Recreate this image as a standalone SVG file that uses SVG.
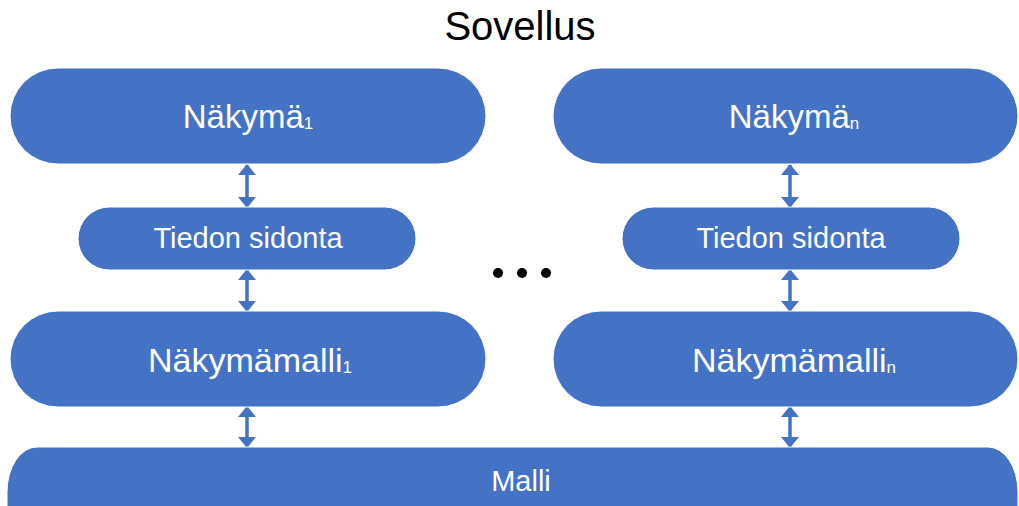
<svg xmlns="http://www.w3.org/2000/svg" width="1019" height="506" viewBox="0 0 1019 506">
  <defs>
    <style>
      .box { fill: #4472C4; stroke: #ffffff; stroke-width: 1; }
      .lbl { fill: #ffffff; font-family: "Liberation Sans", Arial, sans-serif; text-anchor: middle; }
      .big { font-size: 33px; }
      .vm { font-size: 34px; }
      .mid { font-size: 29px; }
      .sub { font-size: 17px; }
      .title { fill: #000000; font-family: "Liberation Sans", Arial, sans-serif; font-size: 40px; text-anchor: middle; }
      .link { stroke: #4472C4; stroke-width: 3.5; fill: none; marker-start: url(#head); marker-end: url(#head); }
    </style>
    <marker id="head" viewBox="0 0 11 18" refX="10" refY="9" markerWidth="11" markerHeight="18" markerUnits="userSpaceOnUse" orient="auto-start-reverse">
      <path d="M0,0 L11,9 L0,18 Z" fill="#4472C4"/>
    </marker>
  </defs>

  <rect width="1019" height="506" fill="#ffffff"/>

  <text class="title" x="520" y="40">Sovellus</text>

  <!-- double-headed links between layers -->
  <g id="connectors">
    <line class="link" x1="247" y1="165" x2="247" y2="207"/>
    <line class="link" x1="247" y1="270" x2="247" y2="311"/>
    <line class="link" x1="247" y1="407" x2="247" y2="447"/>
    <line class="link" x1="790" y1="165" x2="790" y2="207"/>
    <line class="link" x1="790" y1="270" x2="790" y2="311"/>
    <line class="link" x1="790" y1="407" x2="790" y2="447"/>
  </g>

  <g id="view1">
    <rect class="box" x="10" y="68" width="476" height="96" rx="48"/>
    <text class="lbl big" x="248" y="128">Näkymä<tspan class="sub" dy="1">1</tspan></text>
  </g>
  <g id="viewN">
    <rect class="box" x="553" y="68" width="465" height="96" rx="48"/>
    <text class="lbl big" x="794" y="128">Näkymä<tspan class="sub" dy="1">n</tspan></text>
  </g>

  <g id="binding1">
    <rect class="box" x="78" y="207" width="338" height="63" rx="31.5"/>
    <text class="lbl mid" x="248" y="248">Tiedon sidonta</text>
  </g>
  <g id="bindingN">
    <rect class="box" x="622" y="207" width="338" height="63" rx="31.5"/>
    <text class="lbl mid" x="791" y="248">Tiedon sidonta</text>
  </g>

  <g id="ellipsis" fill="#000000">
    <circle cx="498" cy="273" r="5"/>
    <circle cx="522" cy="273" r="5"/>
    <circle cx="546" cy="273" r="5"/>
  </g>

  <g id="viewmodel1">
    <rect class="box" x="10" y="311" width="476" height="96" rx="48"/>
    <text class="lbl vm" x="250" y="372">Näkymämalli<tspan class="sub" dy="1">1</tspan></text>
  </g>
  <g id="viewmodelN">
    <rect class="box" x="553" y="311" width="465" height="96" rx="48"/>
    <text class="lbl vm" x="794" y="372">Näkymämalli<tspan class="sub" dy="1">n</tspan></text>
  </g>

  <g id="model">
    <rect class="box" x="7" y="447" width="1011" height="110" rx="30" ry="45"/>
    <text class="lbl" style="font-size:29px" x="521" y="491">Malli</text>
  </g>
</svg>
